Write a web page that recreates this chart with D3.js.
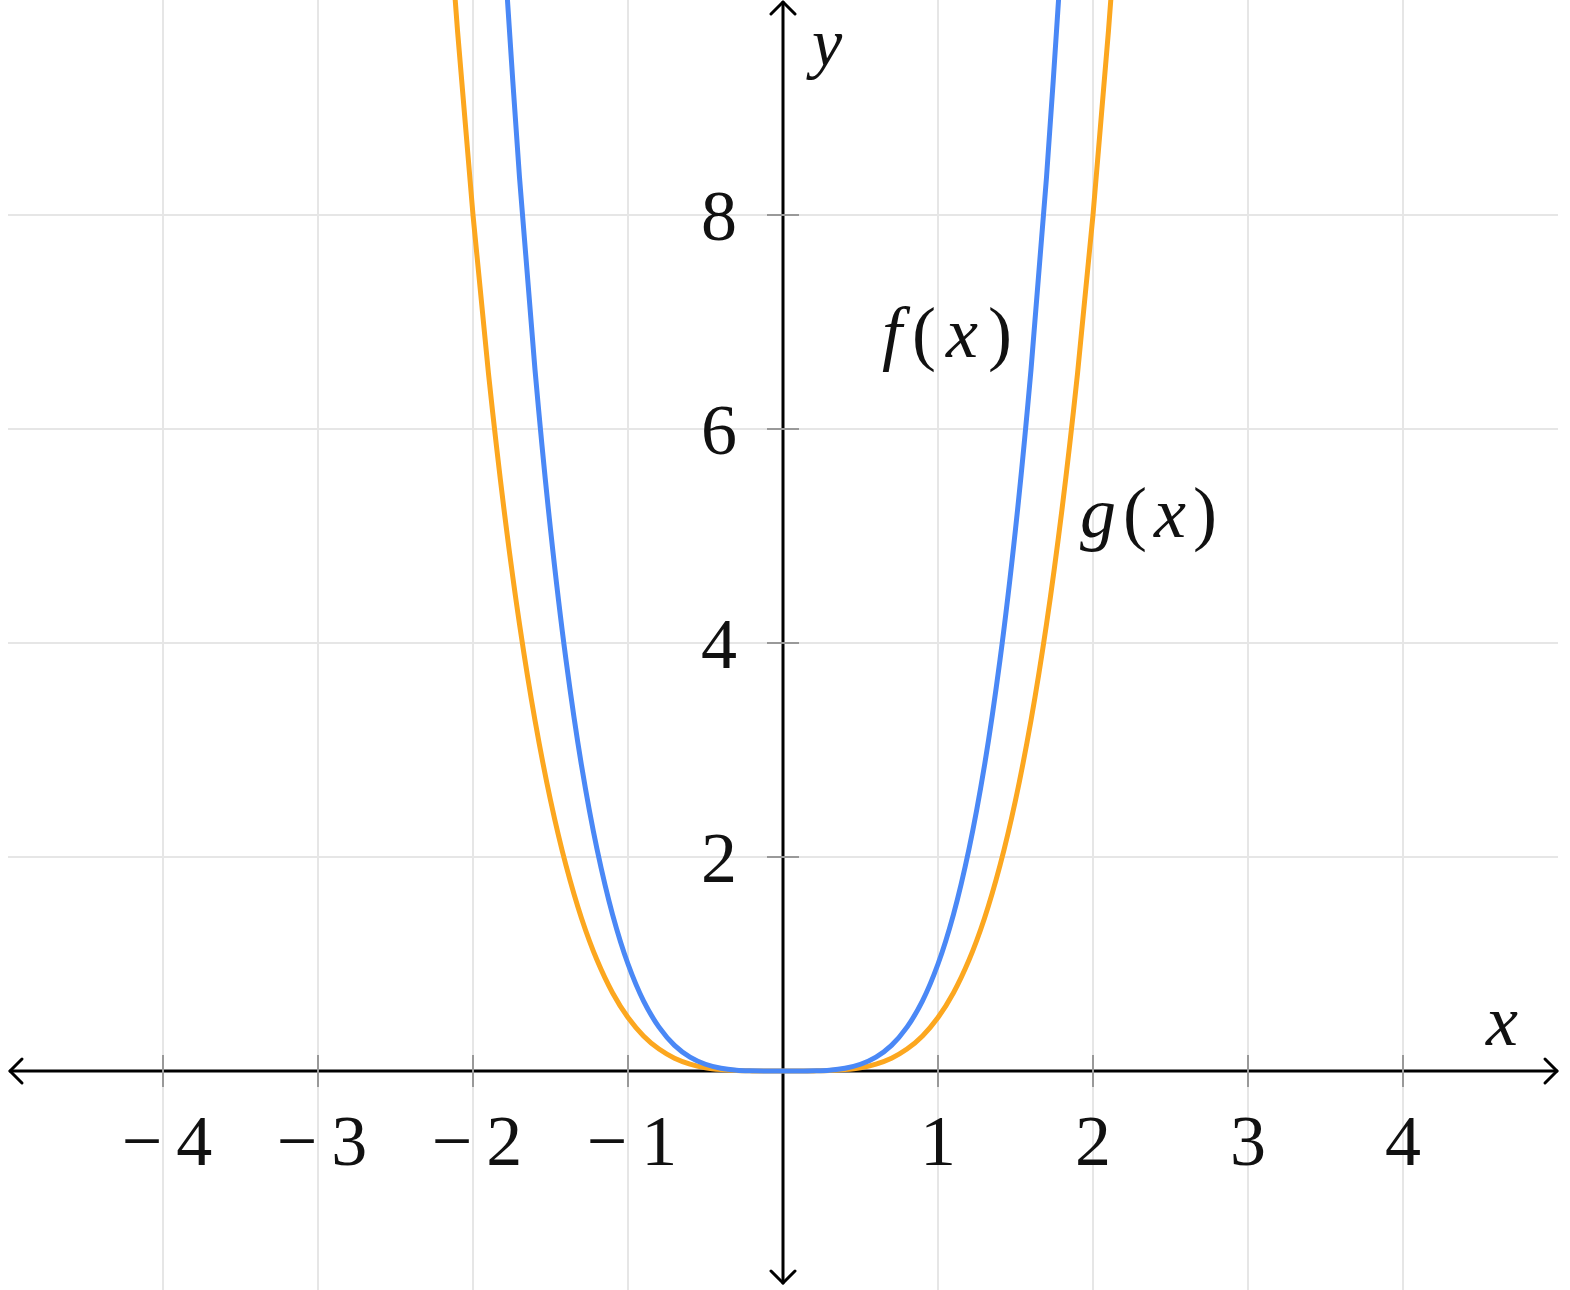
<!DOCTYPE html>
<html>
<head>
<meta charset="utf-8">
<script src="https://cdn.jsdelivr.net/npm/d3@7"></script>
<style>
  body { margin: 0; background: #fff; }
  svg { display: block; }
  .lbl { font-family: "Liberation Serif", "DejaVu Serif", serif; fill: #111; }
</style>
</head>
<body>
<div id="chart"></div>
<script>
// Values
var xTicks = [-4, -3, -2, -1, 1, 2, 3, 4];
var xTickLabels = ["\u22124", "\u22123", "\u22122", "\u22121", "1", "2", "3", "4"];
var yTicks = [2, 4, 6, 8];
var yTickLabels = ["2", "4", "6", "8"];

var fX = [-1.8, -1.7, -1.6, -1.5, -1.4, -1.3, -1.2, -1.1, -1.0, -0.9, -0.8, -0.7, -0.6, -0.5, -0.4, -0.3, -0.2, -0.1,
          0, 0.1, 0.2, 0.3, 0.4, 0.5, 0.6, 0.7, 0.8, 0.9, 1.0, 1.1, 1.2, 1.3, 1.4, 1.5, 1.6, 1.7, 1.8];
var fY = [10.5, 8.352, 6.554, 5.063, 3.842, 2.856, 2.074, 1.464, 1.0, 0.656, 0.41, 0.24, 0.13, 0.063, 0.026, 0.008, 0.002, 0.0,
          0, 0.0, 0.002, 0.008, 0.026, 0.063, 0.13, 0.24, 0.41, 0.656, 1.0, 1.464, 2.074, 2.856, 3.842, 5.063, 6.554, 8.352, 10.5];

var gX = [-2.2, -2.1, -2.0, -1.9, -1.8, -1.7, -1.6, -1.5, -1.4, -1.3, -1.2, -1.1, -1.0, -0.9, -0.8, -0.7, -0.6, -0.5, -0.4, -0.3, -0.2, -0.1,
          0, 0.1, 0.2, 0.3, 0.4, 0.5, 0.6, 0.7, 0.8, 0.9, 1.0, 1.1, 1.2, 1.3, 1.4, 1.5, 1.6, 1.7, 1.8, 1.9, 2.0, 2.1, 2.2];
var gY = [11.71, 9.724, 8.0, 6.516, 5.249, 4.176, 3.277, 2.531, 1.921, 1.428, 1.037, 0.732, 0.5, 0.328, 0.205, 0.12, 0.065, 0.031, 0.013, 0.004, 0.001, 0.0,
          0, 0.0, 0.001, 0.004, 0.013, 0.031, 0.065, 0.12, 0.205, 0.328, 0.5, 0.732, 1.037, 1.428, 1.921, 2.531, 3.277, 4.176, 5.249, 6.516, 8.0, 9.724, 11.71];

var W = 1570, H = 1290;
var blue = "#4a88f6", orange = "#fca71f";

var svg = d3.select("#chart").append("svg")
    .attr("width", W)
    .attr("height", H);

var x = d3.scaleLinear().domain([-5, 5]).range([8, 1558]);
var y = d3.scaleLinear().domain([-2, 10]).range([1285, 1]);

// Grid
svg.selectAll("line.vgrid")
    .data(xTicks)
    .enter().append("line")
    .attr("x1", function(d) { return x(d); })
    .attr("x2", function(d) { return x(d); })
    .attr("y1", 0)
    .attr("y2", H)
    .style("stroke", "#e6e6e6")
    .style("stroke-width", 2);
svg.selectAll("line.hgrid")
    .data(yTicks)
    .enter().append("line")
    .attr("x1", 8)
    .attr("x2", 1558)
    .attr("y1", function(d) { return y(d); })
    .attr("y2", function(d) { return y(d); })
    .style("stroke", "#e6e6e6")
    .style("stroke-width", 2);

// Axes
var x0 = x(0), y0 = y(0);
var axisStyle = function(sel) {
    sel.style("stroke", "#000").style("stroke-width", 3).style("fill", "none")
       .style("stroke-linecap", "round").style("stroke-linejoin", "round");
};
svg.append("line").attr("x1", 10).attr("x2", 1557).attr("y1", y0).attr("y2", y0).call(axisStyle);
svg.append("line").attr("x1", x0).attr("x2", x0).attr("y1", 2).attr("y2", 1283).call(axisStyle);
var a = 12;
svg.append("path").attr("d", "M" + (10 + a) + "," + (y0 - a) + "L10," + y0 + "L" + (10 + a) + "," + (y0 + a)).call(axisStyle);
svg.append("path").attr("d", "M" + (1557 - a) + "," + (y0 - a) + "L1557," + y0 + "L" + (1557 - a) + "," + (y0 + a)).call(axisStyle);
svg.append("path").attr("d", "M" + (x0 - a) + "," + (2 + a) + "L" + x0 + ",2L" + (x0 + a) + "," + (2 + a)).call(axisStyle);
svg.append("path").attr("d", "M" + (x0 - a) + "," + (1283 - a) + "L" + x0 + ",1283L" + (x0 + a) + "," + (1283 - a)).call(axisStyle);

// Ticks
svg.selectAll("line.xtick")
    .data(xTicks)
    .enter().append("line")
    .attr("x1", function(d) { return x(d); })
    .attr("x2", function(d) { return x(d); })
    .attr("y1", y0 - 16)
    .attr("y2", y0 + 16)
    .style("stroke", "#999")
    .style("stroke-width", 2);
svg.selectAll("line.ytick")
    .data(yTicks)
    .enter().append("line")
    .attr("x1", x0 - 16)
    .attr("x2", x0 + 16)
    .attr("y1", function(d) { return y(d); })
    .attr("y2", function(d) { return y(d); })
    .style("stroke", "#999")
    .style("stroke-width", 2);

// Tick labels
var xl = svg.selectAll("text.xl")
    .data(xTicks)
    .enter().append("text")
    .attr("class", "lbl")
    .attr("x", function(d) { return x(d) + (d < 0 ? 4 : 0); })
    .attr("y", 1165)
    .style("font-size", "72px")
    .style("text-anchor", "middle");
xl.each(function(d, i) {
    var t = d3.select(this), s = xTickLabels[i];
    if (d < 0) {
        t.append("tspan").text(s.charAt(0));
        t.append("tspan").attr("dx", 14).text(s.slice(1));
    } else {
        t.text(s);
    }
});
svg.selectAll("text.yl")
    .data(yTicks)
    .enter().append("text")
    .attr("class", "lbl")
    .attr("x", 737)
    .attr("y", function(d) { return y(d) + 25; })
    .style("font-size", "72px")
    .style("text-anchor", "end")
    .text(function(d, i) { return yTickLabels[i]; });

// Curves
svg.append("clipPath").attr("id", "clip")
    .append("rect").attr("x", 0).attr("y", 0).attr("width", W).attr("height", H);
var line = d3.line()
    .x(function(d) { return x(d[0]); })
    .y(function(d) { return y(d[1]); })
    .curve(d3.curveCatmullRom);
svg.append("path")
    .datum(d3.zip(gX, gY))
    .attr("d", line)
    .attr("clip-path", "url(#clip)")
    .style("fill", "none")
    .style("stroke", orange)
    .style("stroke-width", 5);
svg.append("path")
    .datum(d3.zip(fX, fY))
    .attr("d", line)
    .attr("clip-path", "url(#clip)")
    .style("fill", "none")
    .style("stroke", blue)
    .style("stroke-width", 5);

// Labels
function mathLabel(px, py, size, spacing, parts) {
    var t = svg.append("text").attr("class", "lbl")
        .attr("x", px).attr("y", py)
        .style("font-size", size + "px")
        .style("letter-spacing", spacing + "px");
    parts.forEach(function(p) {
        t.append("tspan").style("font-style", p[1] ? "italic" : "normal").text(p[0]);
    });
}
mathLabel(812, 66, 68, 0, [["y", true]]);
mathLabel(1486, 1045, 72, 0, [["x", true]]);
mathLabel(882, 357, 72, 10, [["f", true], ["(", false], ["x", true], [")", false]]);
mathLabel(1080, 537, 72, 7, [["g", true], ["(", false], ["x", true], [")", false]]);
</script>
</body>
</html>
